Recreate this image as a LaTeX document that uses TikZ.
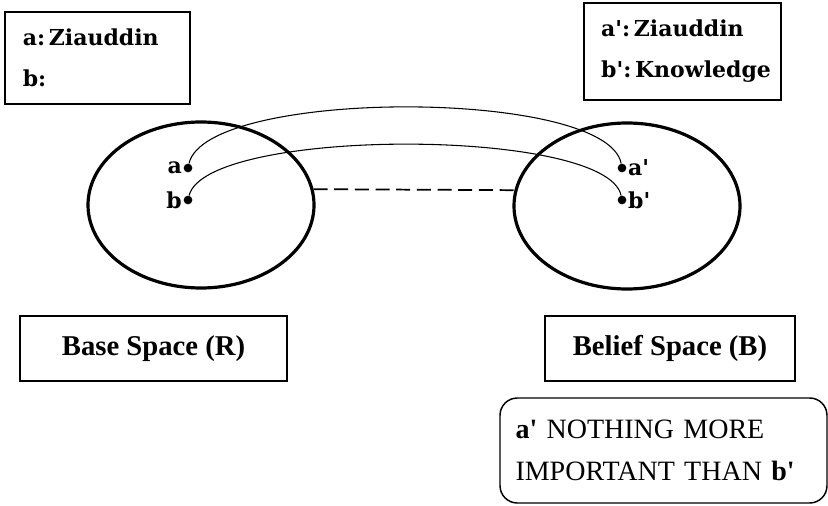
\documentclass[tikz,border=0pt]{standalone}
\usepackage{fontspec}
\setmainfont{Liberation Serif}
\newfontfamily\keyfont{DejaVu Serif}
\usetikzlibrary{shapes.geometric,positioning}
\newcommand\prm{\textquotesingle}

\begin{document}
\begin{tikzpicture}[x=0.75pt,y=-0.75pt,
  box/.style={draw,line width=1.1pt,inner xsep=13pt,align=left},
  key/.style={font=\keyfont\bfseries\fontsize{16.5}{30.75}\selectfont},
  space/.style={draw,ellipse,line width=2.4pt,inner sep=0pt,minimum width=169.5pt,minimum height=124.5pt},
  dot/.style={circle,fill,inner sep=0pt,minimum size=6.5pt},
  tag/.style={font=\keyfont\bfseries\fontsize{16.5}{18}\selectfont,inner sep=0.5pt},
  title/.style={box,align=center,minimum height=48.75pt,font=\bfseries\fontsize{21.5}{26}\selectfont},
  link/.style={line width=0.8pt}]
\useasboundingbox (0,0) rectangle (828,506);
\node[box,key,minimum width=138.75pt,minimum height=69pt,text width=112pt] (keyR) at (97.5,58) {a:\,Ziauddin\\b:};
\node[box,key,minimum width=146.25pt,minimum height=72.75pt,text width=122pt] (keyB) at (682.5,51.5) {a\prm:\,Ziauddin\\b\prm:\,Knowledge};
\node[space] (R) at (201,205) {};
\node[space] (B) at (627,206) {};
\node[dot] (a) at (188,168) {};
\node[dot] (b) at (188,200) {};
\node[dot] (a') at (622,168) {};
\node[dot] (b') at (622,200) {};
\node[tag,left=0.5pt of a] (la) {a};
\node[tag,left=0.5pt of b] (lb) {b};
\node[tag,right=0.5pt of a'] (la') {a\prm};
\node[tag,right=0.5pt of b'] (lb') {b\prm};
\draw[link] (a) .. controls +(18,-80) and +(-15,-80) .. (a');
\draw[link] (b) .. controls +(18,-73) and +(-15,-73) .. (b');
\draw[line width=1.3pt,dash pattern=on 10.5pt off 5pt] (R.8) -- (B.172);
\node[title,minimum width=200.25pt] (baseR) at (153.5,348.5) {Base Space (R)};
\node[title,minimum width=187.5pt] (beliefB) at (670,348.5) {Belief Space (B)};
\node[box,rounded corners=13pt,minimum width=245.25pt,minimum height=78.75pt,text width=222pt,inner xsep=11pt,
  font=\rmfamily\fontsize{21}{31.5}\selectfont] (claim) at (663.5,450.5)
  {\textbf{a\prm} NOTHING MORE\\IMPORTANT THAN \textbf{b\prm}};
\end{tikzpicture}
\end{document}
